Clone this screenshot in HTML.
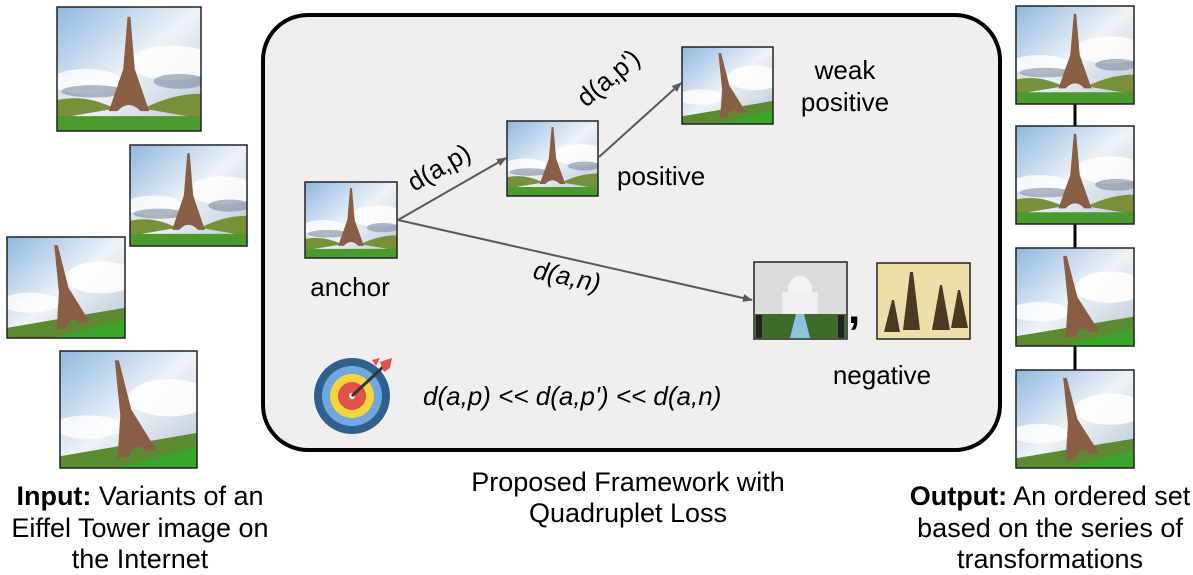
<!DOCTYPE html>
<html><head><meta charset="utf-8"><style>
html,body{margin:0;padding:0;background:#fff;}
svg{display:block;font-family:"Liberation Sans",sans-serif;}
</style></head><body>
<svg width="1193" height="575" viewBox="0 0 1193 575" xmlns="http://www.w3.org/2000/svg">
<defs>
<linearGradient id="sky" x1="0" y1="0" x2="1" y2="1">
<stop offset="0" stop-color="#8fb8e0"/><stop offset="0.5" stop-color="#eef3f8"/><stop offset="1" stop-color="#b8c4d4"/>
</linearGradient>
<symbol id="photo" viewBox="0 0 100 100" preserveAspectRatio="none">
<rect width="100" height="100" fill="url(#sky)"/>
<ellipse cx="80" cy="45" rx="30" ry="14" fill="#fff" opacity="0.8"/>
<ellipse cx="20" cy="60" rx="25" ry="10" fill="#fff" opacity="0.8"/>
<ellipse cx="25" cy="68" rx="22" ry="5" fill="#7d8aa0" opacity="0.6"/>
<ellipse cx="85" cy="60" rx="18" ry="6" fill="#7d8aa0" opacity="0.6"/>
<path d="M0 75 Q20 70 40 82 L0 90Z M60 82 Q80 70 100 70 L100 90Z" fill="#7a8f3a"/>
<rect y="88" width="100" height="12" fill="#4a9a2e"/>
<path d="M49 8 L51 8 L54 50 L64 84 L58 84 Q50 74 42 84 L36 84 L46 50Z" fill="#8a5e44"/>
</symbol>
<symbol id="photoT" viewBox="0 0 100 100" preserveAspectRatio="none">
<rect width="100" height="100" fill="url(#sky)"/>
<ellipse cx="80" cy="40" rx="30" ry="16" fill="#fff" opacity="0.85"/>
<ellipse cx="20" cy="65" rx="25" ry="10" fill="#fff" opacity="0.8"/>
<path d="M0 90 L100 70 L100 100 L0 100Z" fill="#5b8a30"/>
<path d="M40 100 L100 82 L100 100Z" fill="#3aa52a"/>
<path d="M40 8 L43 8 L52 50 L70 84 L63 86 Q55 76 50 90 L42 92 L44 55Z" fill="#8a5e44"/>
</symbol>
<marker id="ah" markerWidth="10" markerHeight="8" refX="9" refY="4" orient="auto" markerUnits="userSpaceOnUse">
<path d="M0 0 L10 4 L0 8Z" fill="#595959"/>
</marker>
</defs>

<use href="#photo" x="57" y="7" width="144" height="124"/><rect x="57" y="7" width="144" height="124" fill="none" stroke="#222" stroke-width="1.5"/>
<use href="#photo" x="130" y="145" width="117" height="101"/><rect x="130" y="145" width="117" height="101" fill="none" stroke="#222" stroke-width="1.5"/>
<use href="#photoT" x="7" y="237" width="118" height="101"/><rect x="7" y="237" width="118" height="101" fill="none" stroke="#222" stroke-width="1.5"/>
<use href="#photoT" x="60" y="351" width="137" height="117"/><rect x="60" y="351" width="137" height="117" fill="none" stroke="#222" stroke-width="1.5"/>

<rect x="263" y="15" width="737" height="435" rx="45" ry="45" fill="#efefef" stroke="#000" stroke-width="4"/>

<use href="#photo" x="305" y="182" width="92" height="76"/><rect x="305" y="182" width="92" height="76" fill="none" stroke="#222" stroke-width="1.5"/>
<use href="#photo" x="507" y="121" width="91" height="75"/><rect x="507" y="121" width="91" height="75" fill="none" stroke="#222" stroke-width="1.5"/>
<use href="#photoT" x="682" y="47" width="91" height="77"/><rect x="682" y="47" width="91" height="77" fill="none" stroke="#222" stroke-width="1.5"/>

<rect x="754" y="262" width="93" height="77" fill="#dcdcdc" stroke="#222" stroke-width="1.5"/>
<ellipse cx="800" cy="290" rx="12" ry="14" fill="#f4f4f4"/>
<rect x="782" y="292" width="36" height="22" fill="#f0f0f0"/>
<rect x="755" y="314" width="91" height="24" fill="#3d6b2a"/>
<path d="M790 338 L796 314 L804 314 L810 338Z" fill="#8cc4e0"/>
<rect x="756" y="315" width="6" height="23" fill="#222"/><rect x="838" y="315" width="6" height="23" fill="#222"/>
<rect x="877" y="263" width="93" height="76" fill="#ece0a8" stroke="#222" stroke-width="1.5"/>
<path d="M910 272 L913 272 L920 330 L903 330Z M940 285 L942 285 L950 330 L932 330Z M892 300 L894 300 L900 332 L884 332Z M958 290 L960 290 L968 328 L951 328Z" fill="#4a3a22"/>
<text x="848" y="323" font-size="44" font-weight="bold" fill="#000">,</text>

<g stroke="#595959" stroke-width="2" fill="none">
<line x1="398" y1="220" x2="506" y2="158" marker-end="url(#ah)"/>
<line x1="599" y1="157" x2="681" y2="83" marker-end="url(#ah)"/>
<line x1="398" y1="220" x2="752" y2="300" marker-end="url(#ah)"/>
</g>

<g font-size="26" fill="#000">
<text x="350" y="296" text-anchor="middle">anchor</text>
<text x="617" y="185">positive</text>
<text x="845" y="79" text-anchor="middle">weak</text>
<text x="845" y="111" text-anchor="middle">positive</text>
<text x="882" y="384" text-anchor="middle">negative</text>
<text transform="translate(414,192) rotate(-30)">d(a,p)</text>
<text transform="translate(586,108) rotate(-40)">d(a,p')</text>
<text transform="translate(532,278) rotate(12)" font-style="italic">d(a,n)</text>
<text x="423" y="405" font-style="italic">d(a,p) &lt;&lt; d(a,p') &lt;&lt; d(a,n)</text>
</g>

<circle cx="352" cy="396" r="38" fill="#2f5f8f"/>
<circle cx="352" cy="396" r="30" fill="#6fa8dc"/>
<circle cx="352" cy="396" r="22" fill="#f6d43c"/>
<circle cx="352" cy="396" r="14" fill="#e0524a"/>
<circle cx="352" cy="396" r="3" fill="#fff"/>
<line x1="352" y1="396" x2="384" y2="366" stroke="#333" stroke-width="3"/>
<path d="M380 362 L392 358 L390 368 L384 372Z M376 366 L372 360 L380 358Z" fill="#e0524a"/>

<line x1="1075" y1="104" x2="1075" y2="370" stroke="#000" stroke-width="3"/>
<use href="#photo" x="1016" y="6" width="118" height="98"/><rect x="1016" y="6" width="118" height="98" fill="none" stroke="#222" stroke-width="1.5"/>
<use href="#photo" x="1016" y="126" width="118" height="98"/><rect x="1016" y="126" width="118" height="98" fill="none" stroke="#222" stroke-width="1.5"/>
<use href="#photoT" x="1016" y="248" width="118" height="98"/><rect x="1016" y="248" width="118" height="98" fill="none" stroke="#222" stroke-width="1.5"/>
<use href="#photoT" x="1016" y="370" width="118" height="98"/><rect x="1016" y="370" width="118" height="98" fill="none" stroke="#222" stroke-width="1.5"/>

<g font-size="27" fill="#000" text-anchor="middle">
<text x="140" y="505"><tspan font-weight="bold">Input:</tspan> Variants of an</text>
<text x="140" y="537">Eiffel Tower image on</text>
<text x="140" y="568">the Internet</text>
<text x="628" y="491">Proposed Framework with</text>
<text x="628" y="522">Quadruplet Loss</text>
<text x="1050" y="505"><tspan font-weight="bold">Output:</tspan> An ordered set</text>
<text x="1050" y="537">based on the series of</text>
<text x="1050" y="568">transformations</text>
</g>
</svg>
</body></html>
